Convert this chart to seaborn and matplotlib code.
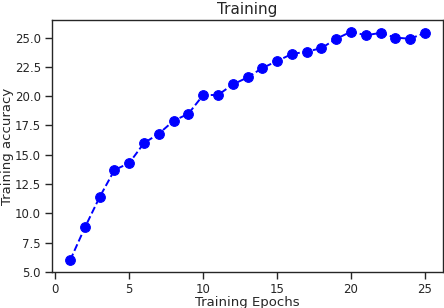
import matplotlib as mpl; mpl.use("Agg")
import matplotlib.pyplot as plt
import seaborn as sns
import pandas as pd

epochs = list(range(1, 26))
accuracy = [6.0, 8.8, 11.4, 13.7, 14.3, 16.0, 16.8, 17.9, 18.5, 20.1,
            20.1, 21.0, 21.6, 22.4, 23.0, 23.6, 23.8, 24.1, 24.9, 25.5,
            25.2, 25.4, 25.0, 24.9, 25.4]

sns.set_theme(style="ticks", context="paper", font_scale=1.0)
mpl.rcParams.update({"axes.titlesize": 11, "axes.labelsize": 9.5,
                     "xtick.labelsize": 8.5, "ytick.labelsize": 8.5})
df = pd.DataFrame({"epoch": epochs, "acc": accuracy})

fig, ax = plt.subplots(figsize=(4.44, 3.08), dpi=100)
sns.lineplot(data=df, x="epoch", y="acc", ax=ax, color="blue", marker="o",
             markersize=7, markeredgecolor="blue", linestyle="--", lw=1.4)
ax.set_ylim(5.0, 26.5)
ax.set_xlim(-0.2, 26.2)
ax.set_yticks([5.0, 7.5, 10.0, 12.5, 15.0, 17.5, 20.0, 22.5, 25.0])
ax.set_xticks([0, 5, 10, 15, 20, 25])
ax.set_xlabel("Training Epochs", labelpad=0)
ax.set_ylabel("Training accuracy", labelpad=0.5)
ax.set_title("Training", pad=4)
fig.subplots_adjust(left=0.118, right=0.997, top=0.935, bottom=0.117)
fig.savefig("out.png", dpi=100)
